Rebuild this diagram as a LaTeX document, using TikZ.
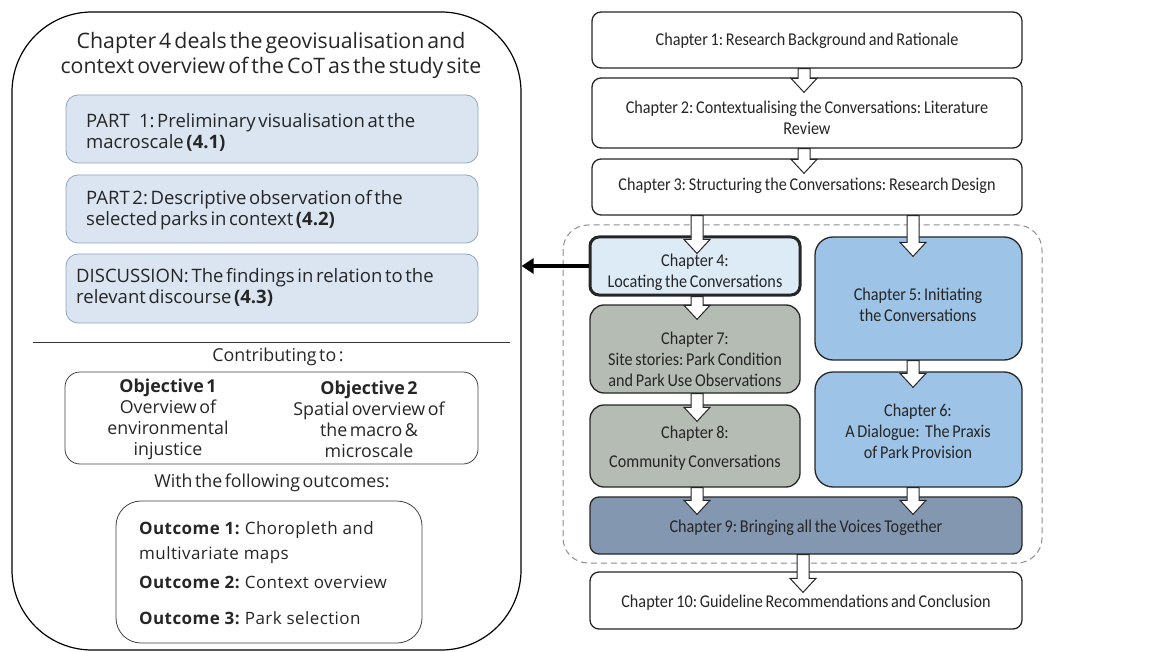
\documentclass[tikz,border=0pt]{standalone}
\usepackage{fontspec}
\setmainfont{Open Sans}
\newfontfamily\lfont{Open Sans}
\newfontfamily\lfonttight[WordSpace=0.55]{Open Sans}
\newfontfamily\lfontwide[LetterSpace=2.5]{Open Sans}
\newfontfamily\rfont[FakeStretch=0.9,WordSpace=0.75]{Carlito}
\usetikzlibrary{arrows.meta,calc}
\frenchspacing

\definecolor{txt}{HTML}{262626}
\definecolor{partfill}{HTML}{DAE5F1}
\definecolor{partdraw}{HTML}{8FA5BE}
\definecolor{chfour}{HTML}{DDEBF7}
\definecolor{chblue}{HTML}{9DC3E6}
\definecolor{chgreen}{HTML}{B5BCB3}
\definecolor{chslate}{HTML}{8497B0}

\tikzset{
  bigpanel/.style={draw=black, line width=1.2pt, rounded corners=80pt, inner sep=0pt},
  partbox/.style={draw=partdraw, fill=partfill, line width=0.8pt, rounded corners=12pt, inner sep=0pt},
  plainbox/.style={draw=black!75, line width=0.8pt, inner sep=0pt},
  chbox/.style={draw=black!85, line width=1.3pt, rounded corners=9pt, inner sep=0pt},
  ltext/.style={font=\lfonttight\fontsize{17.8}{21}\selectfont, text=txt, inner sep=0pt},
  parttext/.style={ltext, font=\lfonttight\fontsize{18.5}{21}\selectfont, anchor=west, align=left},
  outtext/.style={ltext, anchor=west, font=\lfontwide\fontsize{17}{19}\selectfont},
  rtext/.style={font=\rfont\fontsize{18}{21}\selectfont, text=txt, inner sep=0pt, align=center},
  blockarr/.style={draw=black!85, fill=white, line width=1pt, line join=miter},
}

% hollow block arrow from point #1 pointing down to point #2
\newcommand\blockarrow[2]{%
  \draw[blockarr] let \p1=(#1), \p2=(#2) in
    ({\x1-6pt},{\y1}) -- ({\x1-6pt},{\y2+14pt}) -- ({\x1-13pt},{\y2+14pt})
    -- ({\x1},{\y2}) -- ({\x1+13pt},{\y2+14pt}) -- ({\x1+6pt},{\y2+14pt})
    -- ({\x1+6pt},{\y1}) -- cycle;}

\begin{document}
\begin{tikzpicture}[x=1pt,y=-1pt]
\useasboundingbox (0,0) rectangle (1172,652);

% ---------- left panel ----------
\node[bigpanel, minimum width=509pt, minimum height=638pt] (big) at (266.5,331) {};
\node[ltext, font=\lfont\fontsize{21.3}{25}\selectfont, align=center] (head) at (271,55)
  {Chapter 4 deals the geovisualisation and\\context overview of the CoT as the study site};

\node[partbox, minimum width=412pt, minimum height=68pt] (p1) at (272,129) {};
\node[partbox, minimum width=412pt, minimum height=68pt] (p2) at (272,209) {};
\node[partbox, minimum width=412pt, minimum height=69pt] (p3) at (272,288.5) {};
\node[parttext] (p1t) at (86,132.5)
  {PART\hspace{0.5em}1: Preliminary visualisation at the\\macroscale \textbf{(4.1)}};
\node[parttext] (p2t) at (86,210.5)
  {PART 2: Descriptive observation of the\\selected parks in context \textbf{(4.2)}};
\node[parttext] (p3t) at (76,287.5)
  {DISCUSSION: The findings in relation to the\\relevant discourse \textbf{(4.3)}};

\coordinate (rl) at (33,342);
\coordinate (rr) at (510,342);
\draw[black!80, line width=0.8pt] (rl) -- (rr);

\node[ltext] (contrib) at (278,357) {Contributing to :};
\node[plainbox, rounded corners=15pt, minimum width=413pt, minimum height=92pt] (obj) at (271.5,418) {};
\node[ltext, align=center] (obj1) at (168,419)
  {\textbf{Objective 1}\\Overview of\\environmental\\injustice};
\node[ltext, align=center] (obj2) at (369,419)
  {\textbf{Objective 2}\\Spatial overview of\\the macro \&\\microscale};

\node[ltext] (with) at (272,483) {With the following outcomes:};
\node[plainbox, rounded corners=25pt, minimum width=306pt, minimum height=142pt] (out) at (269,572) {};
\node[outtext] (o1) at (139,530) {\textbf{Outcome 1:} Choropleth and};
\node[outtext] (o1b) at (139,555) {multivariate maps};
\node[outtext] (o2) at (139,582) {\textbf{Outcome 2:} Context overview};
\node[outtext] (o3) at (139,618) {\textbf{Outcome 3:} Park selection};

% ---------- right panel: chapter flow ----------
\draw[black!45, line width=1pt, dash pattern=on 6pt off 4pt, rounded corners=25pt]
  (563,225) rectangle (1042,563);

\node[chbox, fill=white, minimum width=430pt, minimum height=56pt] (ch1) at (807,40) {};
\node[chbox, fill=white, minimum width=430pt, minimum height=70pt] (ch2) at (807,113) {};
\node[chbox, fill=white, minimum width=430pt, minimum height=56pt] (ch3) at (807,187) {};
\node[chbox, fill=chfour, line width=3pt, minimum width=210pt, minimum height=58pt] (ch4) at (695,266) {};
\node[chbox, fill=chblue, rounded corners=18pt, minimum width=207pt, minimum height=123pt] (ch5) at (918.5,298.5) {};
\node[chbox, fill=chgreen, rounded corners=14pt, minimum width=210pt, minimum height=88pt] (ch7) at (695,349) {};
\node[chbox, fill=chblue, rounded corners=18pt, minimum width=207pt, minimum height=115pt] (ch6) at (918.5,429.5) {};
\node[chbox, fill=chgreen, rounded corners=14pt, minimum width=210pt, minimum height=82pt] (ch8) at (695,446) {};
\node[chbox, fill=chslate, minimum width=432pt, minimum height=57pt] (ch9) at (806,525.5) {};
\node[chbox, fill=white, minimum width=432pt, minimum height=57pt] (ch10) at (806,600.5) {};

% link from chapter 4 to its detail panel
\draw[-{Triangle[length=12pt,width=15pt]}, line width=3.5pt] (ch4.west) -- (ch4.west -| big.east);

% hollow arrows between chapters
\blockarrow{ch1.south -| 804,0}{$(ch2.north -| 804,0)+(0,15)$}
\blockarrow{ch2.south -| 804,0}{$(ch3.north -| 804,0)+(0,15)$}
\blockarrow{ch3.south -| 697,0}{$(ch4.north -| 697,0)+(0,18)$}
\blockarrow{ch3.south -| 913,0}{$(ch5.north -| 913,0)+(0,20)$}
\blockarrow{ch4.south -| 697,0}{$(ch7.north -| 697,0)+(0,15)$}
\blockarrow{ch7.south -| 697,0}{$(ch8.north -| 697,0)+(0,17)$}
\blockarrow{ch5.south -| 913,0}{$(ch6.north -| 913,0)+(0,16)$}
\blockarrow{ch8.south -| 697,0}{$(ch9.north -| 697,0)+(0,18)$}
\blockarrow{ch6.south -| 913,0}{$(ch9.north -| 913,0)+(0,18)$}
\blockarrow{ch9.south -| 803,0}{$(ch10.north -| 803,0)+(0,21)$}

% chapter titles
\node[rtext] (ch1t) at (807,41) {Chapter 1: Research Background and Rationale};
\node[rtext] (ch2t) at (807,118) {Chapter 2: Contextualising the Conversations: Literature\\Review};
\node[rtext] (ch3t) at (807,186) {Chapter 3: Structuring the Conversations: Research Design};
\node[rtext] (ch4t) at (695,272) {Chapter 4:\\Locating the Conversations};
\node[rtext] (ch5t) at (918,305) {Chapter 5: Initiating\\the Conversations};
\node[rtext] (ch7t) at (695,359.5) {Chapter 7:\\Site stories: Park Condition\\and Park Use Observations};
\node[rtext] (ch6t) at (918,431) {Chapter 6:\\A Dialogue:\ \ The Praxis\\of Park Provision};
\node[rtext, font=\rfont\fontsize{18}{29}\selectfont] (ch8t) at (695,448) {Chapter 8:\\Community Conversations};
\node[rtext] (ch9t) at (806,528) {Chapter 9: Bringing all the Voices Together};
\node[rtext] (ch10t) at (806,603) {Chapter 10: Guideline Recommendations and Conclusion};
\end{tikzpicture}
\end{document}
